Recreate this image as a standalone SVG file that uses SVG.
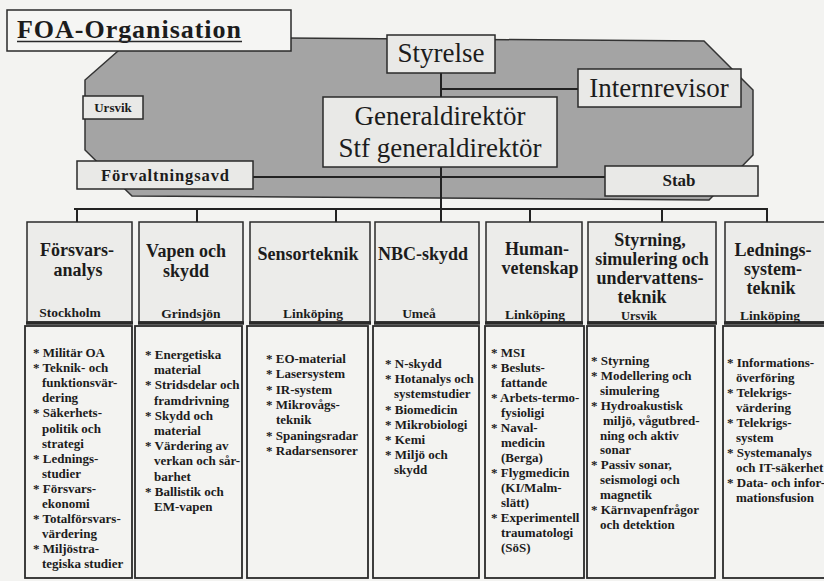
<svg xmlns="http://www.w3.org/2000/svg" width="824" height="581" viewBox="0 0 824 581">
<style>
.t{font-family:"Liberation Serif","Times New Roman",serif;fill:#1c1c1c}
.b{font-weight:bold}
.box{fill:#e9e9e7;stroke:#2a2a2a;stroke-width:1.5}
.hdr{fill:#ececea;stroke:#2a2a2a;stroke-width:1.5}
.body{fill:#f3f3f1;stroke:#2a2a2a;stroke-width:1.8}
.thick{stroke:#2a2a2a;stroke-width:3.5}
.ln{stroke:#222;stroke-width:2;fill:none}
.h18{font-size:18px}
.b13{font-size:13px}
.loc{font-size:13.5px}
</style>
<rect x="0" y="0" width="824" height="581" fill="#f3f3f1"/>
<g id="backdrop">
<polygon points="134,37 704,41 753,90 753,155 709,200 132,196 85,150 85,80" fill="#a4a4a4" stroke="#333" stroke-width="1.5"/>
</g>
<g id="connectors">
<line class="ln" x1="441" y1="73" x2="441" y2="97"/>
<line class="ln" x1="441" y1="89" x2="578" y2="89"/>
<line class="ln" x1="253" y1="177" x2="605" y2="177"/>
<line class="ln" x1="441" y1="167" x2="441" y2="209"/>
<line class="ln" x1="74" y1="209" x2="768" y2="209"/>
<line class="ln" x1="77" y1="209" x2="77" y2="222"/>
<line class="ln" x1="197" y1="209" x2="197" y2="222"/>
<line class="ln" x1="336" y1="209" x2="336" y2="222"/>
<line class="ln" x1="441" y1="209" x2="441" y2="222"/>
<line class="ln" x1="530" y1="209" x2="530" y2="222"/>
<line class="ln" x1="662" y1="209" x2="662" y2="222"/>
<line class="ln" x1="767" y1="209" x2="767" y2="222"/>
</g>
<g id="title">
<rect x="7" y="10" width="284" height="41" fill="#f5f5f3" stroke="#2a2a2a" stroke-width="1.5"/>
<text class="t b" x="17" y="38" font-size="26" textLength="224">FOA-Organisation</text>
<line x1="17" y1="41.5" x2="242" y2="41.5" stroke="#2a2a2a" stroke-width="1.5"/>
</g>
<g id="styrelse">
<rect class="box" x="387" y="35" width="108" height="38"/>
<text class="t" x="441" y="62" font-size="27" text-anchor="middle">Styrelse</text>
</g>
<g id="internrevisor">
<rect class="box" x="578" y="69" width="163" height="38"/>
<text class="t" x="659" y="97" font-size="27" text-anchor="middle">Internrevisor</text>
</g>
<g id="generaldirektor">
<rect class="box" x="323" y="97" width="234" height="70"/>
<text class="t" x="440" y="125" font-size="27" text-anchor="middle">Generaldirektör</text>
<text class="t" x="440" y="157" font-size="27" text-anchor="middle">Stf generaldirektör</text>
</g>
<g id="ursvik">
<rect class="box" x="83" y="96" width="60" height="23"/>
<text class="t b" x="113" y="112" font-size="13" text-anchor="middle">Ursvik</text>
</g>
<g id="forvaltningsavd">
<rect class="box" x="77" y="161" width="176" height="28"/>
<text class="t b" x="165" y="181" font-size="16.5" text-anchor="middle" textLength="128">Förvaltningsavd</text>
</g>
<g id="stab">
<rect class="box" x="605" y="166" width="153" height="30"/>
<text class="t b" x="679" y="186" font-size="17" text-anchor="middle">Stab</text>
</g>

<g id="forsvarsanalys">
<rect class="hdr" x="27" y="222" width="105" height="100"/>
<line class="thick" x1="26" y1="323" x2="133" y2="323"/>
<text class="t b h18" text-anchor="middle"><tspan x="77" y="256">Försvars-</tspan><tspan x="78" y="276">analys</tspan></text>
<text class="t b loc" x="70" y="317" text-anchor="middle">Stockholm</text>
<rect class="body" x="25" y="326" width="107" height="252"/>
<text class="t b b13"><tspan x="33" y="357">* Militär OA</tspan><tspan x="33" dy="15.1">* Teknik- och</tspan><tspan x="42" dy="15.1">funktionsvär-</tspan><tspan x="42" dy="15.1">dering</tspan><tspan x="33" dy="15.1">* Säkerhets-</tspan><tspan x="42" dy="15.1">politik och</tspan><tspan x="42" dy="15.1">strategi</tspan><tspan x="33" dy="15.1">* Lednings-</tspan><tspan x="42" dy="15.1">studier</tspan><tspan x="33" dy="15.1">* Försvars-</tspan><tspan x="42" dy="15.1">ekonomi</tspan><tspan x="33" dy="15.1">* Totalförsvars-</tspan><tspan x="42" dy="15.1">värdering</tspan><tspan x="33" dy="15.1">* Miljöstra-</tspan><tspan x="42" dy="15.1">tegiska studier</tspan></text>
</g>

<g id="vapen">
<rect class="hdr" x="139" y="222" width="104" height="100"/>
<line class="thick" x1="138" y1="323" x2="244" y2="323"/>
<text class="t b h18" text-anchor="middle"><tspan x="186" y="257">Vapen och</tspan><tspan x="186" y="277">skydd</tspan></text>
<text class="t b loc" x="191" y="318" text-anchor="middle">Grindsjön</text>
<rect class="body" x="135" y="326" width="107" height="252"/>
<text class="t b b13"><tspan x="145" y="359">* Energetiska</tspan><tspan x="154" dy="15.2">material</tspan><tspan x="145" dy="15.2">* Stridsdelar och</tspan><tspan x="154" dy="15.2">framdrivning</tspan><tspan x="145" dy="15.2">* Skydd och</tspan><tspan x="154" dy="15.2">material</tspan><tspan x="145" dy="15.2">* Värdering av</tspan><tspan x="154" dy="15.2">verkan och sår-</tspan><tspan x="154" dy="15.2">barhet</tspan><tspan x="145" dy="15.2">* Ballistik och</tspan><tspan x="154" dy="15.2">EM-vapen</tspan></text>
</g>

<g id="sensorteknik">
<rect class="hdr" x="250" y="222" width="120" height="100"/>
<line class="thick" x1="249" y1="323" x2="371" y2="323"/>
<text class="t b h18" x="308" y="260" text-anchor="middle">Sensorteknik</text>
<text class="t b loc" x="313" y="318" text-anchor="middle">Linköping</text>
<rect class="body" x="247" y="326" width="121" height="252"/>
<text class="t b b13"><tspan x="266" y="363">* EO-material</tspan><tspan x="266" dy="15.3">* Lasersystem</tspan><tspan x="266" dy="15.3">* IR-system</tspan><tspan x="266" dy="15.3">* Mikrovågs-</tspan><tspan x="276" dy="15.3">teknik</tspan><tspan x="266" dy="15.3">* Spaningsradar</tspan><tspan x="266" dy="15.3">* Radarsensorer</tspan></text>
</g>

<g id="nbc">
<rect class="hdr" x="375" y="222" width="104" height="100"/>
<line class="thick" x1="374" y1="323" x2="480" y2="323"/>
<text class="t b h18" x="423" y="260" text-anchor="middle">NBC-skydd</text>
<text class="t b loc" x="419" y="318" text-anchor="middle">Umeå</text>
<rect class="body" x="373" y="326" width="106" height="252"/>
<text class="t b b13"><tspan x="385" y="368">* N-skydd</tspan><tspan x="385" dy="15.2">* Hotanalys och</tspan><tspan x="394" dy="15.2">systemstudier</tspan><tspan x="385" dy="15.2">* Biomedicin</tspan><tspan x="385" dy="15.2">* Mikrobiologi</tspan><tspan x="385" dy="15.2">* Kemi</tspan><tspan x="385" dy="15.2">* Miljö och</tspan><tspan x="394" dy="15.2">skydd</tspan></text>
</g>

<g id="humanvetenskap">
<rect class="hdr" x="486" y="222" width="96" height="100"/>
<line class="thick" x1="485" y1="323" x2="583" y2="323"/>
<text class="t b h18" text-anchor="middle"><tspan x="537" y="255">Human-</tspan><tspan x="540" y="274">vetenskap</tspan></text>
<text class="t b loc" x="535" y="319" text-anchor="middle">Linköping</text>
<rect class="body" x="485" y="326" width="99" height="252"/>
<text class="t b b13"><tspan x="491" y="357">* MSI</tspan><tspan x="491" dy="15">* Besluts-</tspan><tspan x="501" dy="15">fattande</tspan><tspan x="491" dy="15">* Arbets-termo-</tspan><tspan x="501" dy="15">fysioligi</tspan><tspan x="491" dy="15">* Naval-</tspan><tspan x="501" dy="15">medicin</tspan><tspan x="501" dy="15">(Berga)</tspan><tspan x="491" dy="15">* Flygmedicin</tspan><tspan x="501" dy="15">(KI/Malm-</tspan><tspan x="501" dy="15">slätt)</tspan><tspan x="491" dy="15">* Experimentell</tspan><tspan x="501" dy="15">traumatologi</tspan><tspan x="501" dy="15">(SöS)</tspan></text>
</g>

<g id="styrning">
<rect class="hdr" x="588" y="222" width="128" height="100"/>
<line class="thick" x1="587" y1="323" x2="717" y2="323"/>
<text class="t b h18" text-anchor="middle"><tspan x="650" y="246">Styrning,</tspan><tspan x="652" y="265">simulering och</tspan><tspan x="650" y="284">undervattens-</tspan><tspan x="642" y="303">teknik</tspan></text>
<text class="t b" x="639" y="320" font-size="12.5" text-anchor="middle">Ursvik</text>
<rect class="body" x="587" y="326" width="128" height="252"/>
<text class="t b b13"><tspan x="591" y="365">* Styrning</tspan><tspan x="591" dy="14.9">* Modellering och</tspan><tspan x="600" dy="14.9">simulering</tspan><tspan x="591" dy="14.9">* Hydroakustisk</tspan><tspan x="603" dy="14.9">miljö, vågutbred-</tspan><tspan x="600" dy="14.9">ning och aktiv</tspan><tspan x="600" dy="14.9">sonar</tspan><tspan x="591" dy="14.9">* Passiv sonar,</tspan><tspan x="600" dy="14.9">seismologi och</tspan><tspan x="600" dy="14.9">magnetik</tspan><tspan x="591" dy="14.9">* Kärnvapenfrågor</tspan><tspan x="600" dy="14.9">och detektion</tspan></text>
</g>

<g id="ledningssystemteknik">
<rect class="hdr" x="725" y="222" width="110" height="100"/>
<line class="thick" x1="724" y1="323" x2="830" y2="323"/>
<text class="t b h18" text-anchor="middle"><tspan x="773" y="256">Lednings-</tspan><tspan x="773" y="275">system-</tspan><tspan x="771" y="294">teknik</tspan></text>
<text class="t b loc" x="770" y="320" text-anchor="middle">Linköping</text>
<rect class="body" x="723" y="326" width="112" height="252"/>
<text class="t b b13"><tspan x="727" y="367">* Informations-</tspan><tspan x="736" dy="15">överföring</tspan><tspan x="727" dy="15">* Telekrigs-</tspan><tspan x="736" dy="15">värdering</tspan><tspan x="727" dy="15">* Telekrigs-</tspan><tspan x="736" dy="15">system</tspan><tspan x="727" dy="15">* Systemanalys</tspan><tspan x="736" dy="15">och IT-säkerhet</tspan><tspan x="727" dy="15">* Data- och infor-</tspan><tspan x="736" dy="15">mationsfusion</tspan></text>
</g>
</svg>
